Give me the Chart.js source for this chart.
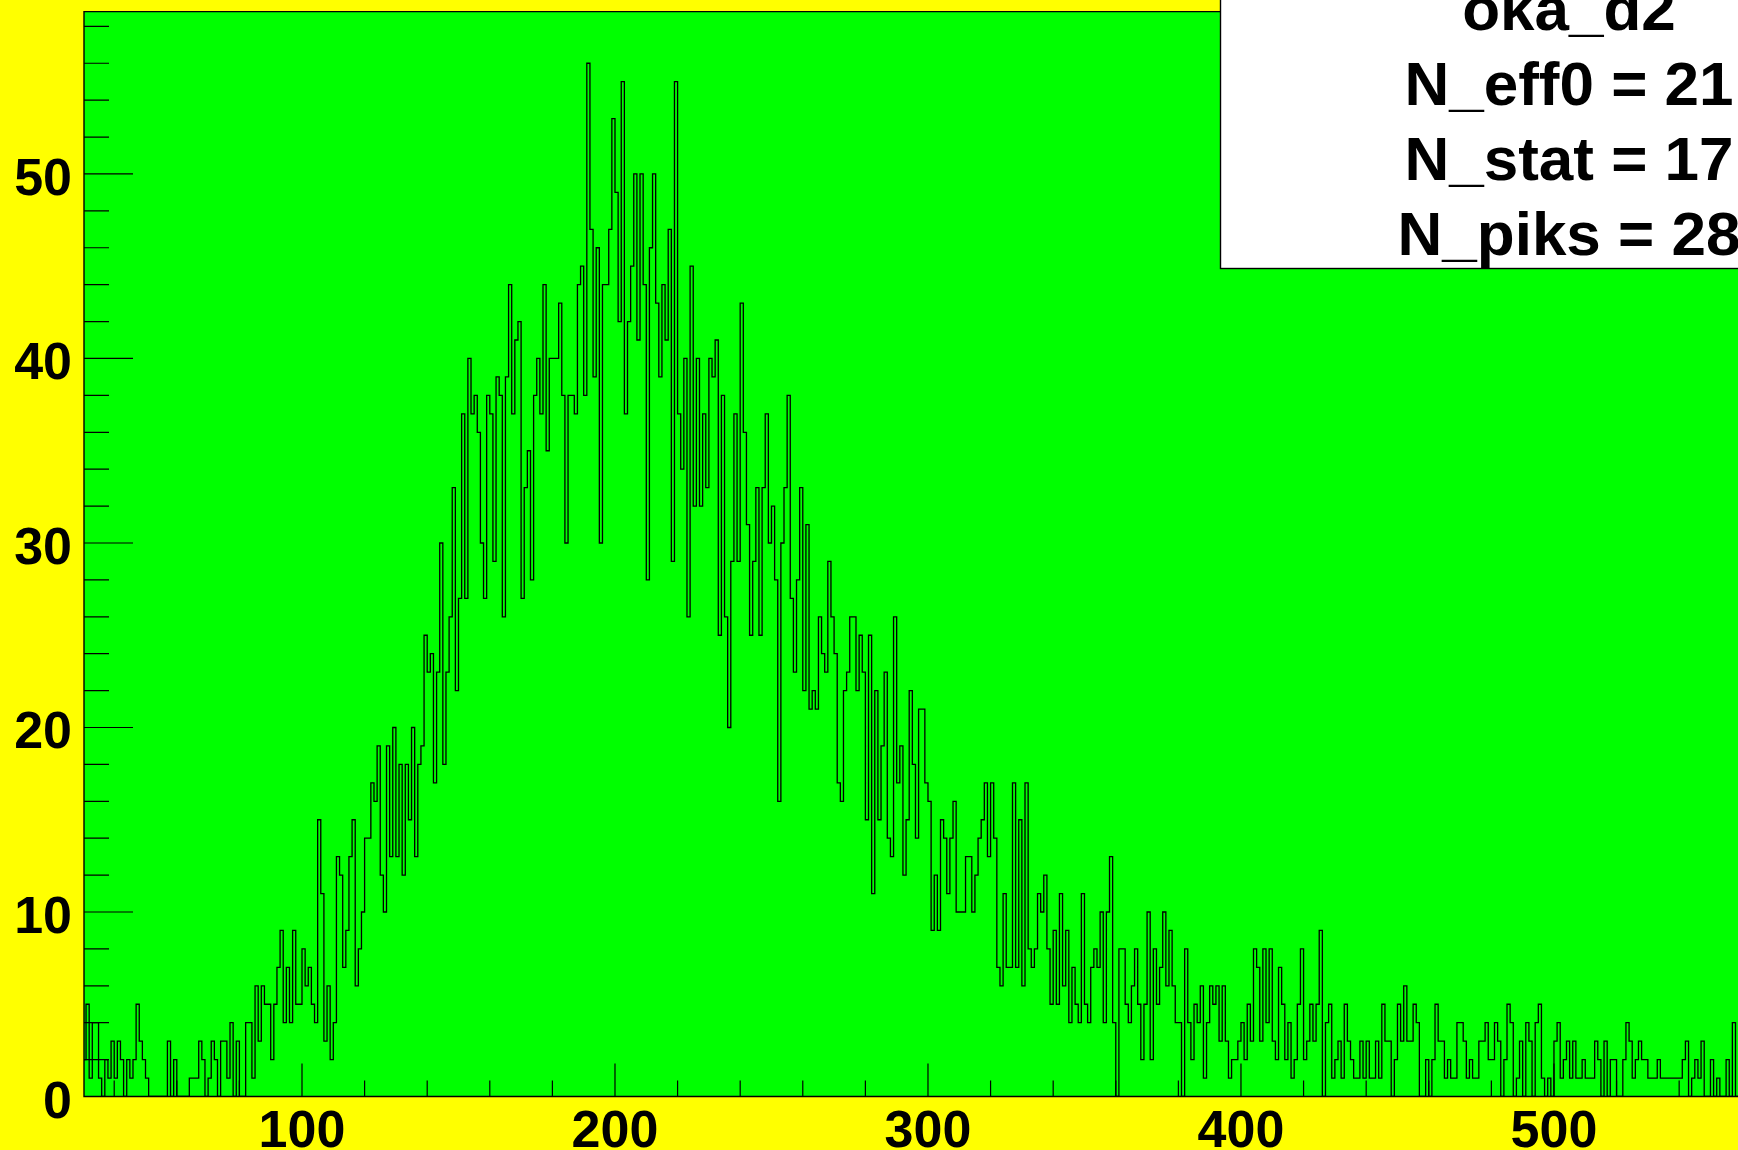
<!DOCTYPE html>
<html>
<head>
<meta charset="utf-8">
<title>oka_d2</title>
<script src="https://cdn.jsdelivr.net/npm/chart.js@4.4.1/dist/chart.umd.min.js"></script>
<style>
  html, body { margin: 0; padding: 0; background: #ffff00; overflow: hidden; }
  #plot { display: block; }
</style>
</head>
<body>
<canvas id="plot" width="1738" height="1150"></canvas>
<script>
// histogram binning: 1 unit wide bins starting at 30
const binLow = 30
const binWidth = 1

// bin contents, ten bins per row (30-39, 40-49, ...)
const counts = [
  2, 5, 1, 4, 4, 1, 0, 2, 1, 3,
  1, 3, 2, 0, 2, 1, 2, 5, 3, 2,
  1, 0, 0, 0, 0, 0, 0, 3, 0, 2,
  0, 0, 0, 0, 1, 1, 1, 3, 2, 0,
  1, 3, 2, 0, 3, 3, 1, 4, 0, 3,
  0, 0, 4, 4, 1, 6, 3, 6, 5, 5,
  2, 5, 7, 9, 4, 7, 4, 9, 5, 5,
  8, 6, 7, 5, 4, 15, 11, 3, 6, 2,
  4, 13, 12, 7, 9, 13, 15, 6, 8, 10,
  14, 14, 17, 16, 19, 12, 10, 19, 13, 20,
  13, 18, 12, 18, 15, 20, 13, 18, 19, 25,
  23, 24, 17, 23, 30, 18, 23, 26, 33, 22,
  27, 37, 27, 40, 37, 38, 36, 30, 27, 38,
  37, 29, 39, 38, 26, 39, 44, 37, 41, 42,
  27, 33, 35, 28, 38, 40, 37, 44, 35, 40,
  40, 40, 43, 38, 30, 38, 38, 37, 44, 45,
  38, 56, 47, 39, 46, 30, 44, 44, 47, 53,
  49, 42, 55, 37, 42, 45, 50, 41, 50, 44,
  28, 46, 50, 43, 39, 44, 41, 47, 29, 55,
  37, 34, 40, 26, 45, 32, 40, 32, 37, 33,
  40, 39, 41, 25, 38, 26, 20, 29, 37, 29,
  43, 36, 31, 25, 29, 33, 25, 33, 37, 30,
  32, 28, 16, 30, 33, 38, 27, 23, 28, 33,
  22, 31, 21, 22, 21, 26, 24, 23, 29, 26,
  24, 17, 16, 22, 23, 26, 26, 22, 25, 23,
  15, 25, 11, 22, 15, 19, 23, 14, 13, 26,
  17, 19, 12, 15, 22, 18, 14, 21, 21, 17,
  16, 9, 12, 9, 15, 14, 11, 14, 16, 10,
  10, 10, 13, 13, 10, 12, 14, 15, 17, 13,
  17, 14, 7, 6, 11, 7, 7, 17, 7, 15,
  6, 17, 8, 7, 8, 11, 10, 12, 8, 5,
  9, 5, 11, 6, 9, 4, 7, 5, 4, 11,
  5, 4, 7, 8, 7, 10, 4, 10, 13, 4,
  0, 8, 8, 5, 4, 6, 8, 5, 2, 5,
  10, 2, 8, 5, 7, 10, 6, 9, 6, 4,
  4, 0, 8, 4, 2, 5, 4, 6, 1, 4,
  6, 5, 6, 3, 6, 3, 1, 2, 2, 3,
  4, 2, 5, 3, 8, 7, 3, 8, 4, 8,
  3, 2, 7, 5, 2, 4, 1, 2, 5, 8,
  2, 3, 5, 3, 5, 9, 0, 4, 5, 1,
  2, 3, 1, 5, 3, 2, 1, 1, 3, 1,
  3, 1, 1, 3, 1, 5, 3, 3, 0, 2,
  5, 3, 6, 3, 3, 5, 4, 0, 0, 2,
  0, 2, 5, 3, 3, 1, 2, 1, 1, 4,
  4, 3, 1, 2, 1, 1, 3, 3, 4, 2,
  2, 4, 3, 0, 2, 5, 4, 0, 1, 3,
  0, 4, 3, 0, 4, 5, 1, 0, 1, 0,
  3, 4, 1, 2, 3, 1, 3, 1, 1, 2,
  1, 1, 1, 3, 2, 0, 3, 0, 2, 2,
  0, 0, 2, 4, 3, 1, 2, 3, 2, 2,
  1, 1, 1, 2, 1, 1, 1, 1, 1, 1,
  1, 2, 3, 0, 1, 2, 1, 3, 0, 0,
  2, 0, 1, 0, 0, 2, 0, 4, 0
]

// axis ranges and ticks
const xRange = [30.35, 558.8]
const yRange = [0, 58.8]
const xMajorTicks = [100, 200, 300, 400, 500]
const xMinorTicks = [40, 60, 80, 120, 140, 160, 180, 220, 240, 260, 280, 320, 340, 360, 380, 420, 440, 460, 480, 520, 540]
const yMajorTicks = [0, 10, 20, 30, 40, 50]
const yMinorTicks = [2, 4, 6, 8, 12, 14, 16, 18, 22, 24, 26, 28, 32, 34, 36, 38, 42, 44, 46, 48, 52, 54, 56, 58]

// stats box
const statsTitle = 'oka_d2'
const statsLines = ['N_eff0 = 21', 'N_stat = 17', 'N_piks = 28']

const FONT = '"Liberation Sans", Arial, Helvetica, sans-serif'

// step outline: each bin contributes its low and high edge at the bin height
function histogramOutline() {
  const pts = []
  counts.forEach((c, i) => {
    const lo = binLow + i * binWidth
    pts.push({ x: lo, y: c })
    pts.push({ x: lo + binWidth, y: c })
  })
  return pts
}

const rootStyle = {
  id: 'rootStyle',
  beforeDraw(chart) {
    const { ctx, chartArea: a } = chart
    ctx.save()
    ctx.fillStyle = '#ffff00'
    ctx.fillRect(0, 0, chart.width, chart.height)
    ctx.fillStyle = '#00ff00'
    ctx.fillRect(a.left, a.top, a.right - a.left, a.bottom - a.top)
    ctx.restore()
  },
  afterDatasetsDraw(chart) {
    const { ctx, chartArea: a, scales } = chart
    const xs = scales.x
    const ys = scales.y
    ctx.save()
    ctx.strokeStyle = '#000'
    ctx.lineWidth = 1.4

    // frame
    ctx.beginPath()
    ctx.moveTo(a.right + 2, a.top)
    ctx.lineTo(a.left, a.top)
    ctx.lineTo(a.left, a.bottom)
    ctx.lineTo(a.right + 2, a.bottom)
    ctx.stroke()

    // ticks drawn inward from the axes
    ctx.lineWidth = 1.2
    ctx.beginPath()
    yMajorTicks.forEach(v => {
      const y = ys.getPixelForValue(v)
      ctx.moveTo(a.left, y)
      ctx.lineTo(a.left + 49, y)
    })
    yMinorTicks.forEach(v => {
      const y = ys.getPixelForValue(v)
      ctx.moveTo(a.left, y)
      ctx.lineTo(a.left + 25, y)
    })
    xMajorTicks.forEach(v => {
      const x = xs.getPixelForValue(v)
      ctx.moveTo(x, a.bottom)
      ctx.lineTo(x, a.bottom - 33)
    })
    xMinorTicks.forEach(v => {
      const x = xs.getPixelForValue(v)
      ctx.moveTo(x, a.bottom)
      ctx.lineTo(x, a.bottom - 16)
    })
    ctx.stroke()

    // tick labels
    ctx.fillStyle = '#000'
    ctx.font = 'bold 52px ' + FONT
    ctx.textBaseline = 'alphabetic'
    ctx.textAlign = 'right'
    yMajorTicks.forEach(v => {
      ctx.fillText(String(v), a.left - 12, ys.getPixelForValue(v) + 21)
    })
    ctx.textAlign = 'center'
    xMajorTicks.forEach(v => {
      ctx.fillText(String(v), xs.getPixelForValue(v), a.bottom + 50)
    })
    ctx.restore()
  },
  afterDraw(chart) {
    const { ctx } = chart
    ctx.save()
    // stats pave, running off the top and right of the canvas
    ctx.fillStyle = '#ffffff'
    ctx.fillRect(1220, -10, 700, 278)
    ctx.strokeStyle = '#000'
    ctx.lineWidth = 1.4
    ctx.strokeRect(1220.5, -10, 700, 278.5)

    ctx.fillStyle = '#000'
    ctx.font = 'bold 62px ' + FONT
    ctx.textAlign = 'center'
    ctx.textBaseline = 'alphabetic'
    const cx = 1569
    ctx.fillText(statsTitle, cx, 30)
    statsLines.forEach((t, i) => ctx.fillText(t, cx, 105 + i * 75))
    ctx.restore()
  }
}

new Chart(document.getElementById('plot'), {
  type: 'line',
  data: {
    datasets: [{
      data: histogramOutline(),
      borderColor: '#000000',
      borderWidth: 1.3,
      pointRadius: 0,
      fill: false,
      tension: 0
    }]
  },
  options: {
    responsive: false,
    animation: false,
    devicePixelRatio: 1,
    layout: { padding: { left: 84, top: 11.6, right: 0, bottom: 53.5 } },
    plugins: { legend: { display: false }, tooltip: { enabled: false } },
    scales: {
      x: { type: 'linear', display: false, min: xRange[0], max: xRange[1] },
      y: { type: 'linear', display: false, min: yRange[0], max: yRange[1] }
    }
  },
  plugins: [rootStyle]
})
</script>
</body>
</html>
